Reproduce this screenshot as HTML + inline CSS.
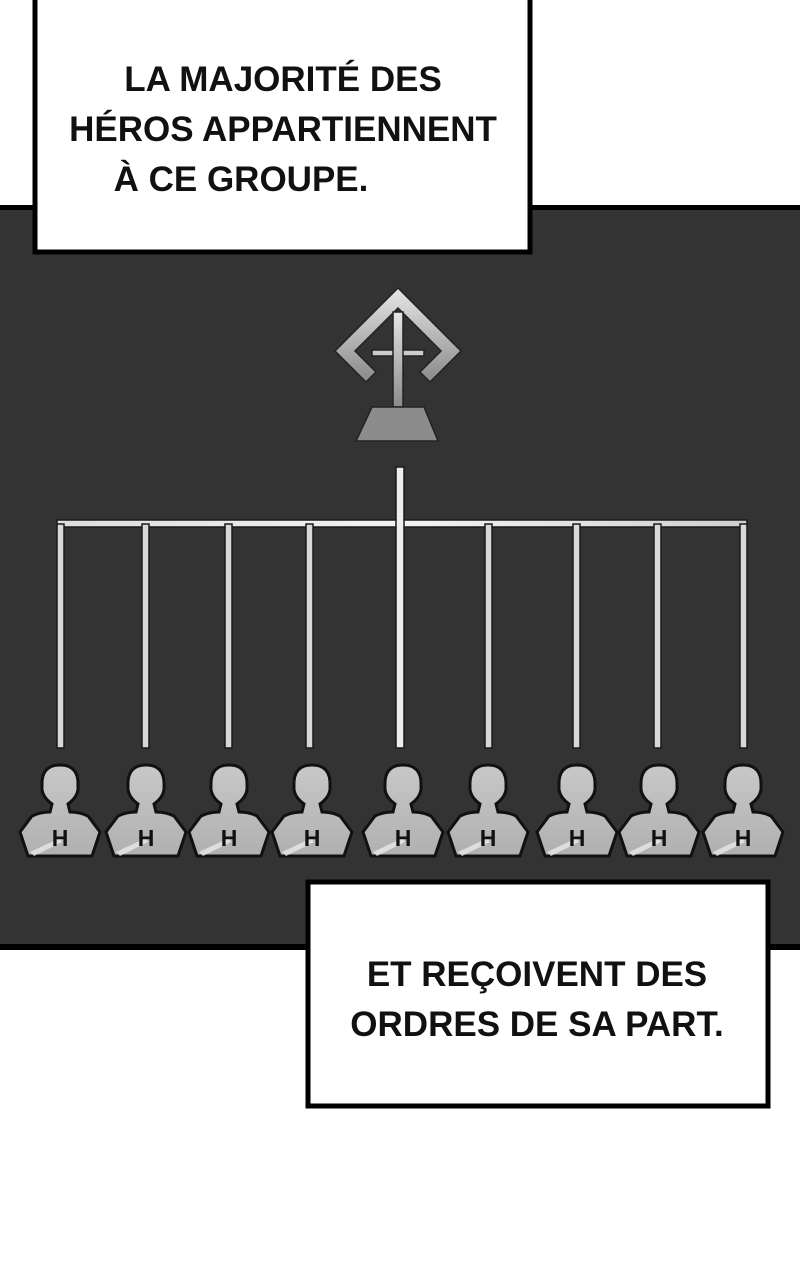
<!DOCTYPE html>
<html><head><meta charset="utf-8"><style>
html,body{margin:0;padding:0;background:#fff;}
body{width:800px;height:1280px;position:relative;overflow:hidden;}
svg{position:absolute;left:0;top:0;}
</style></head><body>
<svg width="800" height="1280" viewBox="0 0 800 1280" xmlns="http://www.w3.org/2000/svg">
<defs>
<linearGradient id="met" x1="0" y1="0" x2="0" y2="1">
<stop offset="0" stop-color="#e6e6e6"/><stop offset="1" stop-color="#8a8a8a"/>
</linearGradient>
<linearGradient id="bar" x1="0" y1="0" x2="1" y2="0">
<stop offset="0" stop-color="#ddd"/><stop offset="0.5" stop-color="#f4f4f4"/><stop offset="1" stop-color="#cfcfcf"/>
</linearGradient>
<linearGradient id="hero" x1="0" y1="0" x2="0" y2="1">
<stop offset="0" stop-color="#c8c8c8"/><stop offset="1" stop-color="#b0b0b0"/>
</linearGradient>
<g id="h">
<path d="M-40,32 L-28,16 Q-20,12 -10,12 L-8,4 Q-19,-4 -18,-14 Q-19,-35 0,-35 Q19,-35 18,-14 Q19,-4 8,4 L10,12 Q20,12 28,16 L40,32 L32,56 L-32,56 Z" fill="url(#hero)" stroke="#111" stroke-width="3"/>
<path d="M-30,52 L0,38 L2,42 L-26,56 Z" fill="#e8e8e8" opacity="0.8"/>
<text x="0" y="46" font-family="Liberation Sans, sans-serif" font-weight="bold" font-size="23" text-anchor="middle" fill="#111">H</text>
</g>
</defs>
<rect x="0" y="207" width="800" height="742" fill="#333"/>
<rect x="0" y="205" width="800" height="5" fill="#000"/>
<rect x="0" y="944" width="800" height="6" fill="#000"/>

<g stroke="#222" stroke-width="1.5">
<path d="M398,288 L461,351 L430,382 L420,372 L441,351 L398,308 L355,351 L376,372 L366,382 L335,351 Z" fill="url(#met)"/>
<path d="M372,350 L424,350 L424,356 L372,356 Z" fill="#ccc"/>
<rect x="393" y="312" width="10" height="95" fill="url(#met)"/>
<path d="M372,407 L424,407 L438,441 L356,441 Z" fill="#8c8c8c"/>
</g>

<rect x="57" y="520" width="690" height="7" fill="url(#bar)" stroke="#1a1a1a" stroke-width="1.5"/>
<g fill="#d8d8d8" stroke="#1a1a1a" stroke-width="1.5">
<rect x="57" y="524" width="7" height="224"/>
<rect x="142" y="524" width="7" height="224"/>
<rect x="225" y="524" width="7" height="224"/>
<rect x="306" y="524" width="7" height="224"/>
<rect x="396" y="467" width="8" height="281" fill="#eee"/>
<rect x="485" y="524" width="7" height="224"/>
<rect x="573" y="524" width="7" height="224"/>
<rect x="654" y="524" width="7" height="224"/>
<rect x="740" y="524" width="7" height="224"/>
</g>

<use href="#h" x="60" y="800"/>
<use href="#h" x="146" y="800"/>
<use href="#h" x="229" y="800"/>
<use href="#h" x="312" y="800"/>
<use href="#h" x="403" y="800"/>
<use href="#h" x="488" y="800"/>
<use href="#h" x="577" y="800"/>
<use href="#h" x="659" y="800"/>
<use href="#h" x="743" y="800"/>

<rect x="35" y="-5" width="495" height="257" fill="#fff" stroke="#000" stroke-width="5"/>
<g font-family="Liberation Sans, sans-serif" font-weight="bold" font-size="35" text-anchor="middle" fill="#111">
<text x="283" y="91">LA MAJORITÉ DES</text>
<text x="283" y="141">HÉROS APPARTIENNENT</text>
<text x="241" y="191">À CE GROUPE.</text>
</g>
<rect x="308" y="882" width="460" height="224" fill="#fff" stroke="#000" stroke-width="5"/>
<g font-family="Liberation Sans, sans-serif" font-weight="bold" font-size="35" text-anchor="middle" fill="#111">
<text x="537" y="986">ET REÇOIVENT DES</text>
<text x="537" y="1036">ORDRES DE SA PART.</text>
</g>
</svg>
</body></html>
